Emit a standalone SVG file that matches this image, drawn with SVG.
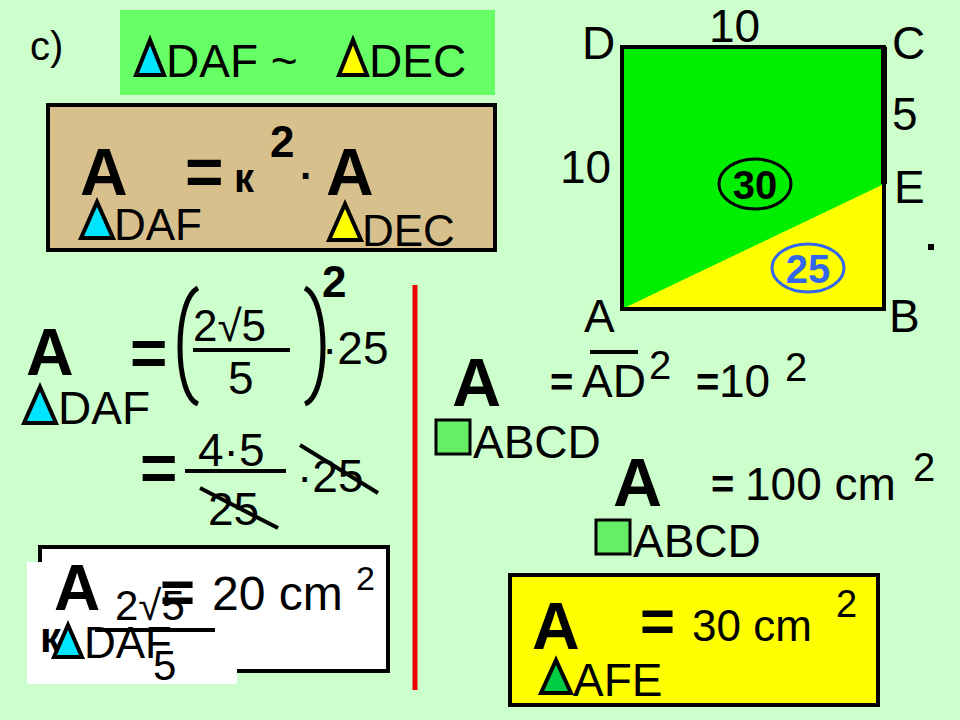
<svg xmlns="http://www.w3.org/2000/svg" width="960" height="720" viewBox="0 0 960 720">
<style>
text{font-family:"Liberation Sans",Arial,sans-serif;fill:#000}
.b{font-weight:bold}
.t{stroke:#000;stroke-width:4;stroke-linejoin:miter}
.ln{stroke:#000;stroke-width:4}
</style>
<rect width="960" height="720" fill="#ccffcc"/>
<g id="title">
<text x="30" y="60" font-size="40">c)</text>
<rect x="120" y="10" width="375" height="85" fill="#66ff66"/>
<polygon class="t" points="136,75 150,40 164,75" fill="#00e5ff"/>
<text x="166" y="77" font-size="46">DAF ~</text>
<polygon class="t" points="339,75 353,40 367,75" fill="#ffff00"/>
<text x="369" y="77" font-size="46">DEC</text>
</g>
<g id="ratio">
<rect x="48" y="105" width="447" height="145" fill="#d8c08c" stroke="#000" stroke-width="4"/>
<text class="b" x="80" y="195" font-size="66">A</text>
<text class="b" x="185" y="195" font-size="66">=</text>
<text class="b" x="234" y="192" font-size="40">к</text>
<text class="b" x="270" y="157" font-size="44">2</text>
<text class="b" x="300" y="190" font-size="40">·</text>
<text class="b" x="326" y="195" font-size="66">A</text>
<polygon class="t" points="81,238 97,202 113,238" fill="#00e5ff"/>
<text x="114" y="240" font-size="44">DAF</text>
<polygon class="t" points="329,240 345,204 361,240" fill="#ffff00"/>
<text x="362" y="246" font-size="44">DEC</text>
</g>
<g id="calc">
<text class="b" x="26" y="375" font-size="66">A</text>
<polygon class="t" points="24,423 40,387 56,423" fill="#00e5ff"/>
<text x="58" y="424" font-size="46">DAF</text>
<text class="b" x="130" y="375" font-size="64">=</text>
<path d="M198,288 C174,300 174,395 198,404" fill="none" stroke="#000" stroke-width="5"/>
<path d="M305,288 C329,300 329,395 305,404" fill="none" stroke="#000" stroke-width="5"/>
<text x="193" y="341" font-size="44">2√5</text>
<line class="ln" x1="193" y1="350" x2="290" y2="350"/>
<text x="228" y="394" font-size="46">5</text>
<text class="b" x="322" y="297" font-size="44">2</text>
<text x="322" y="364" font-size="46">·25</text>
<text class="b" x="140" y="490" font-size="64">=</text>
<text x="198" y="466" font-size="46">4·5</text>
<line class="ln" x1="185" y1="471" x2="286" y2="471"/>
<text x="208" y="525" font-size="46">25</text>
<line class="ln" x1="200" y1="488" x2="278" y2="528"/>
<text x="297" y="492" font-size="46">·25</text>
<line class="ln" x1="300" y1="445" x2="378" y2="493"/>
<line x1="415" y1="285" x2="415" y2="690" stroke="#ee0000" stroke-width="5"/>
</g>
<g id="result">
<rect x="40" y="547" width="348" height="124" fill="#fff" stroke="#000" stroke-width="4"/>
<rect x="27" y="562" width="210" height="122" fill="#fff"/>
<text class="b" x="54" y="610" font-size="64">A</text>
<text x="212" y="610" font-size="48">20 cm</text>
<text x="356" y="590" font-size="34">2</text>
<text class="b" x="160" y="612" font-size="60">=</text>
<text x="115" y="620" font-size="42">2√5</text>
<line class="ln" x1="95" y1="630" x2="215" y2="630"/>
<text class="b" x="40" y="652" font-size="42">к</text>
<polygon class="t" points="54,657 68,625 82,657" fill="#00e5ff"/>
<text x="84" y="658" font-size="44">DAF</text>
<text x="153" y="680" font-size="42">5</text>
</g>
<g id="square">
<rect x="622" y="47" width="262" height="262" fill="#00ee00"/>
<polygon points="622,309 884,184 884,309" fill="#ffff00"/>
<rect x="622" y="47" width="262" height="262" fill="none" stroke="#000" stroke-width="4"/>
<line x1="884" y1="47" x2="884" y2="184" stroke="#000" stroke-width="6"/>
<ellipse cx="755" cy="184" rx="36" ry="25" fill="none" stroke="#000" stroke-width="3"/>
<text class="b" x="755" y="199" font-size="40" text-anchor="middle">30</text>
<ellipse cx="808" cy="268" rx="36" ry="24" fill="none" stroke="#3366ee" stroke-width="3"/>
<text class="b" x="808" y="283" font-size="40" text-anchor="middle" style="fill:#3366ee">25</text>
<text x="582" y="59" font-size="46">D</text>
<text x="709" y="42" font-size="46">10</text>
<text x="892" y="59" font-size="46">C</text>
<text x="892" y="130" font-size="46">5</text>
<text x="560" y="183" font-size="46">10</text>
<text x="894" y="203" font-size="46">E</text>
<rect x="928" y="244" width="6" height="6" fill="#000"/>
<text x="584" y="332" font-size="46">A</text>
<text x="889" y="332" font-size="46">B</text>
</g>
<g id="areas">
<text class="b" x="452" y="406" font-size="68">A</text>
<text class="b" x="550" y="396" font-size="40">=</text>
<text x="582" y="397" font-size="46">AD</text>
<line class="ln" x1="590" y1="352" x2="638" y2="352" stroke-width="3"/>
<text x="649" y="379" font-size="40">2</text>
<text class="b" x="696" y="396" font-size="40">=</text>
<text x="719" y="397" font-size="46">10</text>
<text x="785" y="381" font-size="40">2</text>
<rect x="436" y="420" width="34" height="34" fill="#66ee66" stroke="#000" stroke-width="3"/>
<text x="473" y="458" font-size="46">ABCD</text>
<text class="b" x="613" y="506" font-size="68">A</text>
<text class="b" x="711" y="498" font-size="40">=</text>
<text x="745" y="500" font-size="46">100 cm</text>
<text x="913" y="481" font-size="40">2</text>
<rect x="596" y="520" width="34" height="34" fill="#66ee66" stroke="#000" stroke-width="3"/>
<text x="633" y="557" font-size="46">ABCD</text>
</g>
<g id="afe">
<rect x="510" y="575" width="368" height="130" fill="#ffff00" stroke="#000" stroke-width="4"/>
<text class="b" x="532" y="649" font-size="66">A</text>
<text class="b" x="640" y="641" font-size="60">=</text>
<text x="692" y="641" font-size="44">30 cm</text>
<text x="836" y="617" font-size="38">2</text>
<polygon class="t" points="541,693 556,660 571,693" fill="#00cc44"/>
<text x="573" y="696" font-size="46">AFE</text>
</g>
</svg>
